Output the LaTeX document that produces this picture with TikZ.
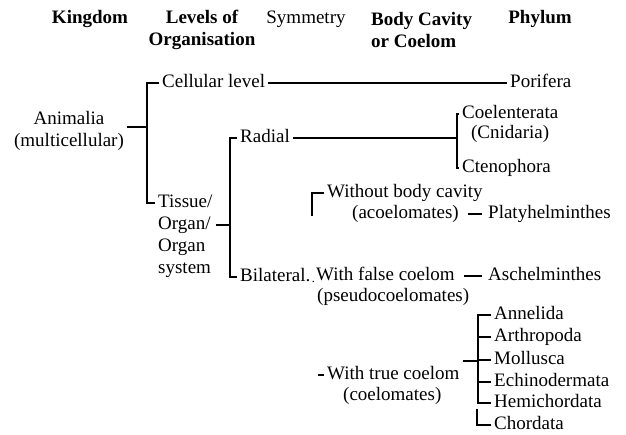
\documentclass[tikz,border=0pt]{standalone}
\usepackage{fontspec}
\setmainfont{Liberation Serif}
\usepackage{tikz}
\usetikzlibrary{positioning}

\begin{document}
\begin{tikzpicture}[x=1pt, y=-1pt,
  txt/.style={anchor=west, inner xsep=3pt, inner ysep=1pt, font=\fontsize{19}{22}\selectfont},
  lbl/.style={txt, text height=13pt, text depth=4pt},
  hdr/.style={inner sep=1pt, align=center, font=\fontsize{19}{22}\selectfont\bfseries},
  link/.style={line width=1.2pt},
  gap/.style={link, shorten <=6pt, shorten >=3pt}]
  \useasboundingbox (0,0) rectangle (626,434);

  \node[hdr] (kingdom) at (90,19) {Kingdom};
  \node[hdr] (levels) at (202,30) {Levels of\\Organisation};
  \node[hdr, font=\fontsize{19}{22}\selectfont] (symm) at (306,19) {Symmetry};
  \node[hdr, anchor=west, align=left] (cavity) at (370,30) {Body Cavity\\or Coelom};
  \node[hdr] (phylum) at (540,19) {Phylum};

  \node[lbl, anchor=center] (animalia) at (69,120) {Animalia};
  \node[lbl, anchor=north, below=3pt of animalia] (multi) {(multicellular)};
  \node[lbl] (cell) at (159,83) {Cellular level};
  \node[lbl] (porifera) at (507,83) {Porifera};
  \node[txt, align=left] (tissue) at (155,236) {Tissue/\\Organ/\\Organ\\system};

  \node[lbl] (radial) at (237,138) {Radial};
  \node[lbl] (bilat) at (237,277) {Bilateral.};
  \node[lbl] (coel) at (459,114) {Coelenterata};
  \node[lbl, anchor=north, below=1pt of coel] (cnid) {(Cnidaria)};
  \node[lbl] (cteno) at (459,168) {Ctenophora};

  \node[lbl] (without) at (324,193) {Without body cavity};
  \node[lbl] (acoel) at (349,214) {(acoelomates)};
  \node[lbl] (platy) at (485,214) {Platyhelminthes};
  \node[lbl] (false) at (313,276) {With false coelom};
  \node[lbl] (pseudo) at (314,297) {(pseudocoelomates)};
  \node[lbl] (asch) at (485,276) {Aschelminthes};
  \node[lbl] (truec) at (324,375) {With true coelom};
  \node[lbl] (coelomates) at (340,396) {(coelomates)};

  \node[lbl] (annelida) at (491,315) {Annelida};
  \node[lbl] (arthro) at (491,337) {Arthropoda};
  \node[lbl] (mollusca) at (491,360) {Mollusca};
  \node[lbl] (echino) at (491,382) {Echinodermata};
  \node[lbl] (hemi) at (491,403) {Hemichordata};
  \node[lbl] (chordata) at (491,425) {Chordata};

  \coordinate (kbar) at (147,127);
  \coordinate (lbar) at (230,225);
  \coordinate (rbar) at (457,138);
  \coordinate (wstub) at (312,216);
  \coordinate (tstub) at (318,375);
  \coordinate (pbar) at (478,361);
  \coordinate (cbar) at (477,409);

  \draw[link] (kbar -| multi.east) -- (kbar);
  \draw[link] (cell.west) -| (kbar) |- ([yshift=33pt]tissue.west);
  \draw[link] (cell.east) -- (porifera.west);
  \draw[link] ([yshift=11pt]tissue.east) -- (lbar);
  \draw[link] (radial.west) -| (lbar) |- (bilat.west);
  \draw[link] (radial.east) -- (rbar);
  \draw[link] (coel.west) -| (rbar) |- (cteno.west);
  \draw[link] (without.west) -| (wstub);
  \draw[gap] (acoel.east) -- (platy.west);
  \draw[link] ([yshift=-5pt]bilat.east) -- ([yshift=-5pt]false.west);
  \draw[gap] (false.east) -- (asch.west);
  \draw[link] (tstub) -- (truec.west);
  \draw[link] (truec.east |- pbar) -- (pbar);
  \draw[link] (annelida.west) -| (pbar) |- (hemi.west);
  \foreach \p in {arthro, mollusca, echino}
    \draw[link] (\p.west) -- (\p.west -| pbar);
  \draw[link] (cbar) |- (chordata.west);
\end{tikzpicture}
\end{document}
